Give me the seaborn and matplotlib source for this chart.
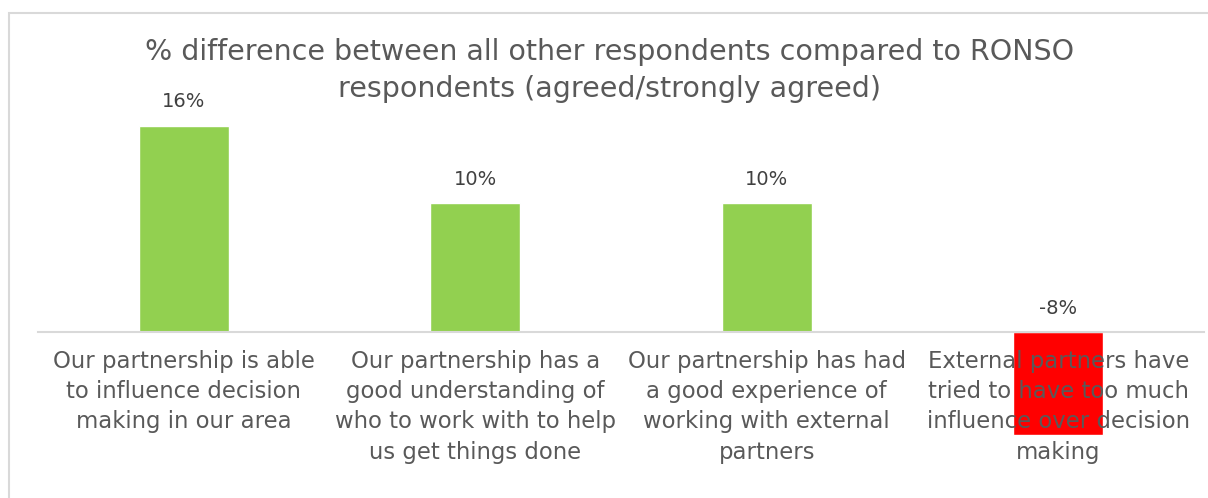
import matplotlib
matplotlib.use("Agg")
import matplotlib.pyplot as plt
import seaborn as sns
from matplotlib.patches import Rectangle

categories = [
    "Our partnership is able\nto influence decision\nmaking in our area",
    "Our partnership has a\ngood understanding of\nwho to work with to help\nus get things done",
    "Our partnership has had\na good experience of\nworking with external\npartners",
    "External partners have\ntried to have too much\ninfluence over decision\nmaking",
]
values = [16, 10, 10, -8]
value_labels = ["16%", "10%", "10%", "-8%"]
title_lines = ["% difference between all other respondents compared to RONSO",
               "respondents (agreed/strongly agreed)"]

GREEN = "#92D050"
RED = "#FF0000"
colors = [GREEN if v >= 0 else RED for v in values]

sns.set_theme(style="white")
plt.rcParams["font.family"] = ["DejaVu Sans"]

W, H = 1208, 498
fig = plt.figure(figsize=(W / 100, H / 100), dpi=100)
fig.patch.set_facecolor("white")

# chart frame
fig.patches.append(Rectangle((9 / W, -0.1), 1.2, 1 - 13 / H + 0.1,
                             transform=fig.transFigure, fill=False,
                             edgecolor="#d9d9d9", linewidth=1.5))

# plot area: x from 38 to 1204 px, y from 74 (top) to 461 (bottom)
ax = fig.add_axes([38 / W, (H - 461) / H, (1204 - 38) / W, (461 - 74) / H])
ax.set_facecolor("none")

sns.barplot(x=list(range(len(values))), y=values, hue=list(range(len(values))),
            palette=colors, legend=False, width=0.31, ax=ax, saturation=1)

ax.set_xlim(-0.5, len(values) - 0.5)
ax.set_ylim(-10, 20)
ax.set_axisbelow(False)

for sp in ["left", "right", "top"]:
    ax.spines[sp].set_visible(False)
ax.spines["bottom"].set_position(("data", 0))
ax.spines["bottom"].set_color("#d9d9d9")
ax.spines["bottom"].set_linewidth(1.5)
ax.set_yticks([])
ax.set_xticks(range(len(categories)))
ax.set_xticklabels(categories, color="#595959", fontsize=16.4,
                   linespacing=1.4, va="top")
ax.tick_params(axis="x", length=0, pad=13)
ax.set_xlabel("")
ax.set_ylabel("")

for i, (v, lab) in enumerate(zip(values, value_labels)):
    ax.annotate(lab, (i, max(v, 0)), xytext=(0, 17), textcoords="offset points",
                ha="center", va="center", fontsize=14, color="#404040")

# two-line chart title
for line, ypx in zip(title_lines, [52, 89]):
    fig.text(610 / W, 1 - ypx / H, line, ha="center", va="center",
             fontsize=20.5, color="#595959")

fig.savefig("out.png", dpi=100)
